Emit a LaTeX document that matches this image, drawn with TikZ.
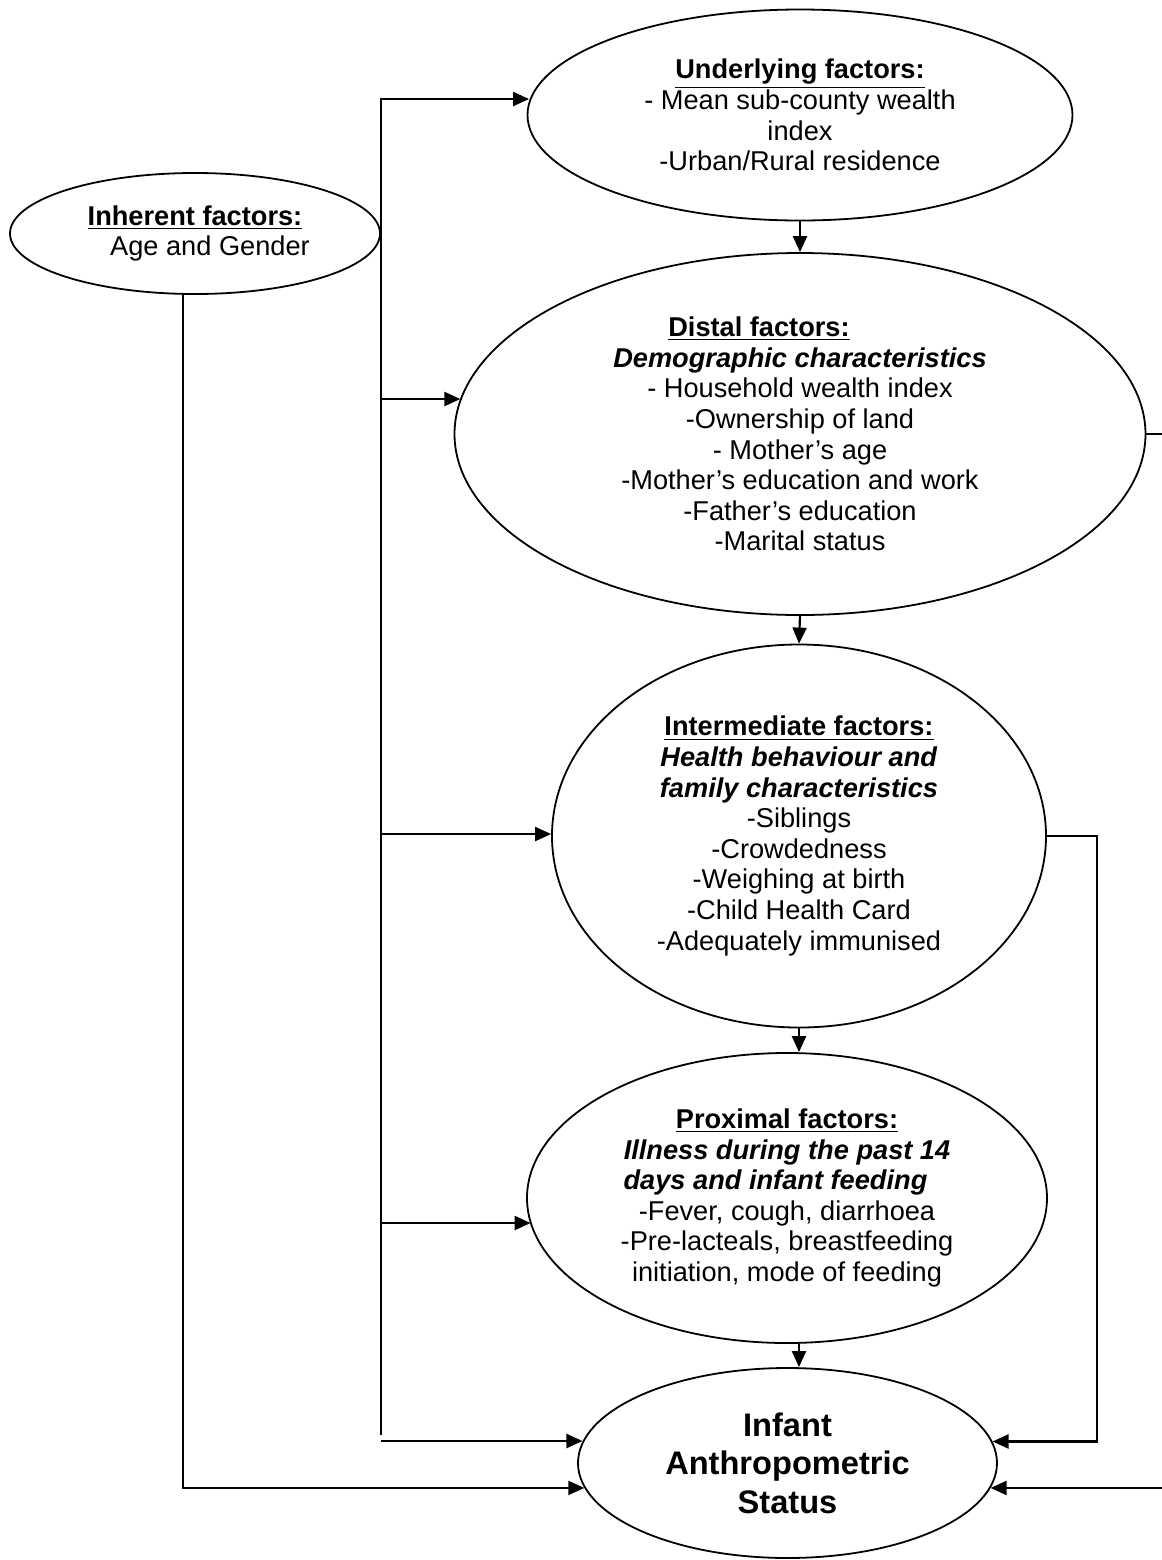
\documentclass[tikz,border=0pt]{standalone}
\usepackage{fontspec}
\setmainfont{Liberation Sans}
\usetikzlibrary{arrows.meta,shapes.geometric,positioning}

\begin{document}
\begin{tikzpicture}[
            x=0.5pt, y=-0.5pt,
            factor/.style={
                draw,
                ellipse,
                line width=0.9pt,
                inner sep=0pt,
                align=center,
                font=\fontsize{13.6}{15.3}\selectfont
            },
            outcomebox/.style={
                factor,
                font=\fontsize{16.3}{19.2}\selectfont\bfseries
            },
            wire/.style={
                line width=1.1pt
            },
            link/.style={
                wire,
                -{Triangle[length=8pt,width=7pt]}
            }
        ]

% Page frame
            \path[use as bounding box] (0,0) rectangle (1162,1560);
            \clip (0,0) rectangle (1162,1560);

% Layout parameters
            \def\xTrunk{381}    % vertical trunk x
            \def\xOuter{183}    % line from inherent factors

% --- Factor ellipses ---
            \node[factor, minimum width=185pt, minimum height=60.5pt] (inherent) at (195,233.5)
                {\underline{\textbf{Inherent factors:}}\\\makebox[15pt]{}Age and Gender};

            \node[factor, minimum width=272.5pt, minimum height=105.5pt] (under) at (800,115)
                {\underline{\textbf{Underlying factors:}}\\- Mean sub-county wealth\\index\\-Urban/Rural residence};

            \node[factor, minimum width=345.5pt, minimum height=181pt] (distal) at (800,434)
                {\underline{\textbf{Distal factors:}}\makebox[41pt]{}\\
                 \textbf{\textit{Demographic characteristics}}\\
                 - Household wealth index\\-Ownership of land\\- Mother’s age\\
                 -Mother’s education and work\\-Father’s education\\-Marital status};

            \node[factor, minimum width=247pt, minimum height=191.5pt] (inter) at (799,836)
                {\underline{\textbf{Intermediate factors:}}\\
                 \textbf{\textit{Health behaviour and}}\\\textbf{\textit{family characteristics}}\\
                 -Siblings\\-Crowdedness\\-Weighing at birth\\-Child Health Card\\-Adequately immunised};

            \node[factor, minimum width=260pt, minimum height=145pt] (prox) at (787,1198)
                {\underline{\textbf{Proximal factors:}}\\
                 \textbf{\textit{Illness during the past 14}}\\\textbf{\textit{days and infant feeding}}\makebox[11.5pt]{}\\
                 -Fever, cough, diarrhoea\\-Pre-lacteals, breastfeeding\\initiation, mode of feeding};

            \node[outcomebox, minimum width=209.5pt, minimum height=95pt] (outcome) at (787.5,1463)
                {Infant\\Anthropometric\\Status};

% --- Chain down the middle ---
            \draw[link] (under.south) -- (distal.north);
            \draw[link] (distal.south) -- (inter.north);
            \draw[link] (inter.south) -- (inter.south |- prox.north);
            \draw[link] (inter.south |- prox.south) -- (inter.south |- outcome.north);

% --- Trunk with its branches ---
            \coordinate (ttop) at (\xTrunk,99);
            \coordinate (tbot) at (\xTrunk,1435);
            \draw[link] (tbot) -- (ttop) -- (ttop -| under.177);
            \foreach \y/\tgt/\ang in {399/distal/174, 834/inter/180, 1223/prox/186, 1441/outcome/174} {
                \coordinate (tap) at (\xTrunk,\y);
                \draw[link] (tap) -- (tap -| \tgt.\ang);
            }

% Inherent factors straight to the outcome
            \coordinate (ocorner) at (\xOuter,1489);
            \draw[link] (inherent.south -| ocorner) |- (outcome.187);

% Right-hand returns
            \draw[link] (inter.east) -- ++(50,0) |- (outcome.6);
            \draw[link] (distal.east) -- ++(60,0) |- (outcome.353);

        \end{tikzpicture}
\end{document}
